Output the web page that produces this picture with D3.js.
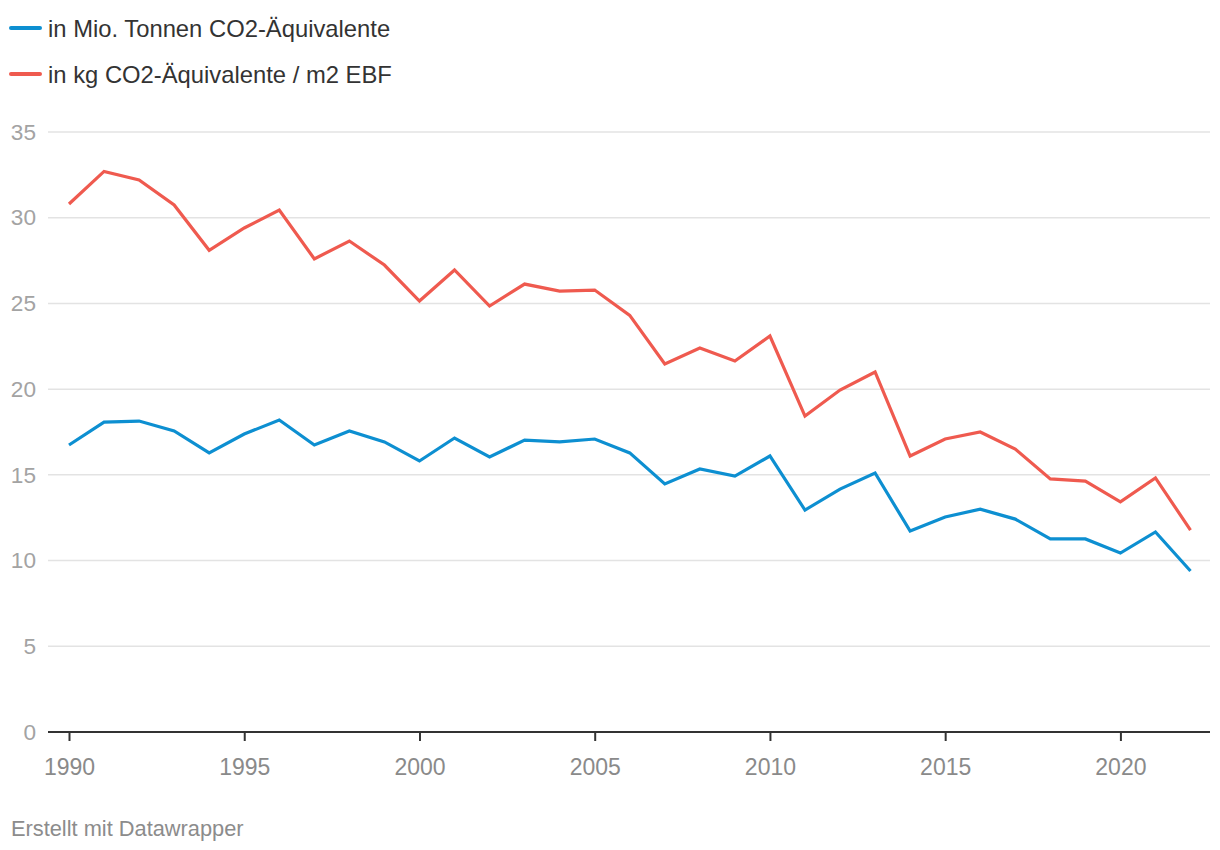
<!DOCTYPE html>
<html>
<head>
<meta charset="utf-8">
<script src="https://cdn.jsdelivr.net/npm/d3@7"></script>
<style>
  html, body { margin: 0; padding: 0; background: #fff; }
  svg { display: block; font-family: "Liberation Sans", Arial, Helvetica, sans-serif; }
</style>
</head>
<body>
<svg id="chart" width="1220" height="850"></svg>
<script>
const years = d3.range(1990, 2023);
const seriesNames = ["in Mio. Tonnen CO2-Äquivalente", "in kg CO2-Äquivalente / m2 EBF"];
const seriesColors = ["#0d8fd1", "#ef5a4f"];
const mioTonnen = [16.74, 18.08, 18.14, 17.56, 16.28, 17.38, 18.2, 16.74, 17.56, 16.92, 15.81, 17.15, 16.04, 17.03, 16.92, 17.09, 16.28, 14.47, 15.34, 14.93, 16.1, 12.95, 14.17, 15.11, 11.72, 12.54, 13.0, 12.42, 11.26, 11.26, 10.44, 11.67, 9.39];
const kgProM2 = [30.8, 32.7, 32.2, 30.74, 28.1, 29.4, 30.45, 27.6, 28.64, 27.24, 25.14, 26.95, 24.85, 26.13, 25.72, 25.78, 24.3, 21.47, 22.4, 21.64, 23.1, 18.43, 19.95, 21.0, 16.1, 17.09, 17.5, 16.5, 14.76, 14.64, 13.42, 14.82, 11.78];
const yTicks = [0, 5, 10, 15, 20, 25, 30, 35];
const xTicks = [1990, 1995, 2000, 2005, 2010, 2015, 2020];
const footer = "Erstellt mit Datawrapper";

const svg = d3.select("#chart");
const x = d3.scaleLinear().domain([1990, 2022]).range([69, 1190.5]);
const y = d3.scaleLinear().domain([0, 35]).range([732, 132]);

// legend
const legend = svg.append("g");
seriesNames.forEach((name, i) => {
  const ly = 28 + i * 46;
  legend.append("line").attr("x1", 11).attr("x2", 40).attr("y1", ly).attr("y2", ly)
    .attr("stroke", seriesColors[i]).attr("stroke-width", 4).attr("stroke-linecap", "round");
  legend.append("text").attr("x", 48).attr("y", ly).attr("dy", "0.36em")
    .attr("font-size", 23.8).attr("fill", "#333").text(name);
});

// y grid + labels
const yAxis = d3.axisLeft(y).tickValues(yTicks).tickSize(0).tickPadding(0);
const gy = svg.append("g");
gy.selectAll("line.grid").data(yTicks.filter(d => d !== 0)).join("line")
  .attr("class", "grid").attr("x1", 48).attr("x2", 1210)
  .attr("y1", d => y(d)).attr("y2", d => y(d))
  .attr("stroke", "#e3e3e3").attr("stroke-width", 1.5);
const gyl = svg.append("g").attr("transform", "translate(36,0)").call(yAxis);
gyl.select(".domain").remove();
gyl.selectAll("text").attr("font-size", 22.6).attr("fill", "#a3a3a3")
  .attr("font-family", "Liberation Sans, Arial, sans-serif");

// lines
const lineGen = d3.line().x((d, i) => x(years[i])).y(d => y(d));
[mioTonnen, kgProM2].forEach((vals, i) => {
  svg.append("path").datum(vals).attr("d", lineGen)
    .attr("fill", "none").attr("stroke", seriesColors[i]).attr("stroke-width", 3.2)
    .attr("stroke-linejoin", "miter").attr("stroke-linecap", "butt");
});

// x axis
const xAxis = d3.axisBottom(x).tickValues(xTicks).tickFormat(d3.format("d")).tickSize(9).tickPadding(18);
const gx = svg.append("g").attr("transform", `translate(0,${y(0)})`).call(xAxis);
gx.select(".domain").remove();
gx.append("line").attr("x1", 48).attr("x2", 1210).attr("y1", 0).attr("y2", 0)
  .attr("stroke", "#333").attr("stroke-width", 2);
gx.selectAll(".tick line").attr("stroke", "#333").attr("stroke-width", 2);
gx.selectAll("text").attr("font-size", 23).attr("fill", "#8a8a8a")
  .attr("font-family", "Liberation Sans, Arial, sans-serif");

// footer
svg.append("text").attr("x", 11).attr("y", 828).attr("dy", "0.36em")
  .attr("font-size", 21.8).attr("fill", "#8c8c8c").text(footer);
</script>
</body>
</html>
